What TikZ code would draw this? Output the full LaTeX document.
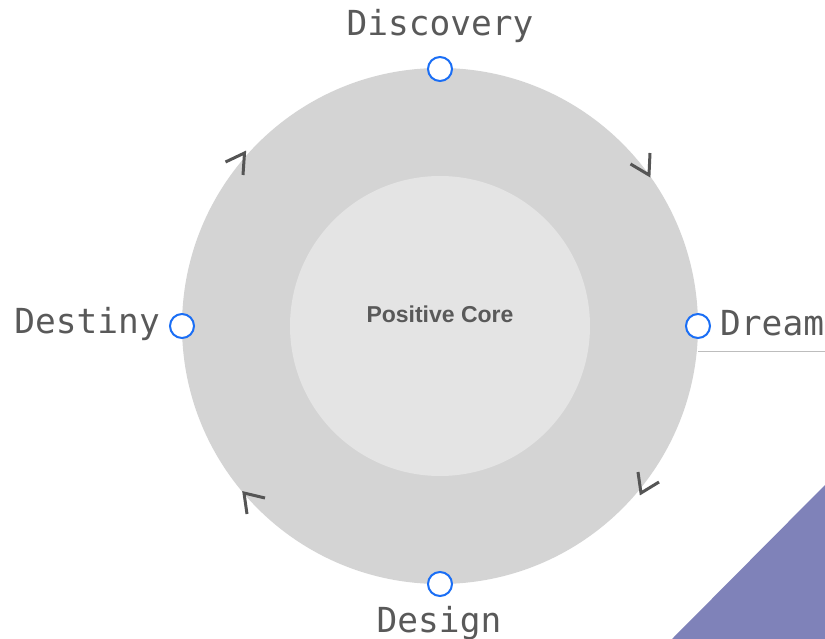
\documentclass[tikz,border=0pt]{standalone}
\usepackage{fontspec}
\newfontfamily\labelmono{DejaVu Sans Mono}
\newfontfamily\coresans{Liberation Sans}
\definecolor{outergray}{HTML}{D4D4D4}
\definecolor{innergray}{HTML}{E4E4E4}
\definecolor{textgray}{HTML}{595959}
\definecolor{chevgray}{HTML}{555555}
\definecolor{dotblue}{HTML}{1A6EF5}
\definecolor{rulegray}{HTML}{BDBDBD}
\definecolor{triblue}{HTML}{7F82B9}
\tikzset{
  stagelabel/.style={inner sep=0pt, text=textgray, font=\labelmono\fontsize{34.5}{40}\selectfont},
  stagedot/.style={circle, draw=dotblue, line width=2pt, fill=white, minimum size=24pt, inner sep=0pt},
  chevron/.style={draw=chevgray, line width=3pt, line join=miter},
}
\begin{document}
\begin{tikzpicture}[x=1pt,y=-1pt]
\useasboundingbox (0,0) rectangle (825,639);
% background triangle
\fill[triblue] (672,639) -- (825,485) -- (825,639) -- cycle;
% circles
\node[circle, fill=outergray, minimum size=516pt, inner sep=0pt] (outer) at (440,326) {};
\node[circle, fill=innergray, minimum size=300pt, inner sep=0pt] (inner) at (440,326) {};
\node[anchor=base, inner sep=0pt, text=textgray, font=\coresans\bfseries\fontsize{23}{27}\selectfont] (core) at (440,322.5) {Positive Core};
% thin rule
\coordinate (ruleend) at (825,351);
\draw[rulegray, line width=1pt] (outer.east |- ruleend) -- (ruleend);
% chevrons
\draw[chevron] (630.5,164) -- (649,175) -- (650,153);
\draw[chevron] (225.5,162) -- (244.5,153) -- (243,175);
\draw[chevron] (638,472) -- (641,493) -- (659,482);
\draw[chevron] (265,498) -- (244,493) -- (247,514);
% dots
\node[stagedot] (dtop) at (440,69) {};
\node[stagedot] (dright) at (698,326) {};
\node[stagedot] (dbottom) at (440,584) {};
\node[stagedot] (dleft) at (182,326) {};
% labels
\node[stagelabel, anchor=base] (discovery) at (440,36) {Discovery};
\node[stagelabel, anchor=base west] (dream) at (720,335) {Dream};
\node[stagelabel, anchor=base] (design) at (439,632) {Design};
\node[stagelabel, anchor=base east] (destiny) at (160,334) {Destiny};
\end{tikzpicture}
\end{document}
